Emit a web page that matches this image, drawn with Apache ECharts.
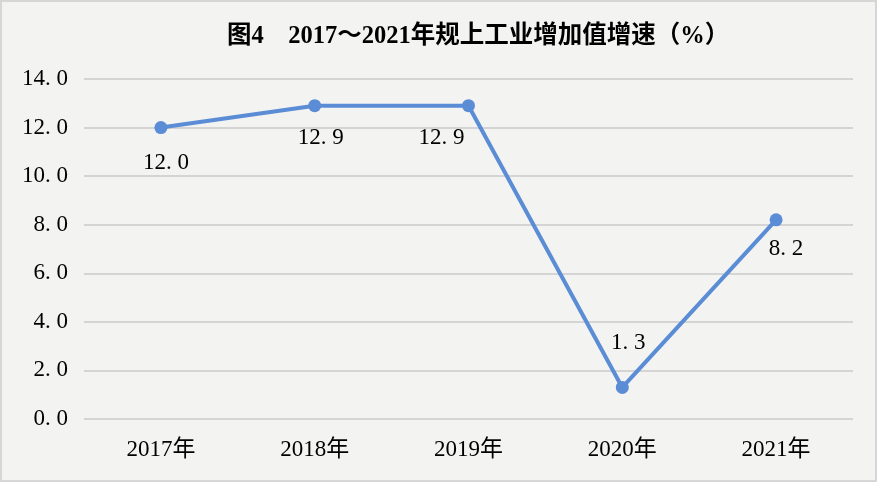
<!DOCTYPE html>
<html>
<head>
<meta charset="utf-8">
<script src="https://cdn.jsdelivr.net/npm/echarts@6/dist/echarts.min.js"></script>
<style>
  html, body { margin: 0; padding: 0; background: #ffffff; }
  #chart { width: 873px; height: 478px; border: 2px solid #d6d6d6; background: #f3f3f2; }
</style>
</head>
<body>
<div id="chart"></div>
<script>
const titleText = '图4\u30002017～2021年规上工业增加值增速（%）';
const categories = ['2017年', '2018年', '2019年', '2020年', '2021年'];
const growth = [12.0, 12.9, 12.9, 1.3, 8.2];
const yTicks = { min: 0, max: 14, interval: 2 };
const labelOffsets = [[5, 35], [6, 32], [-27, 32], [6, -44], [10, 29]];

const fmt = v => Number(v).toFixed(1).replace('.', '. ');
const serif = '"Liberation Serif", "Noto Sans CJK SC", serif';

const chart = echarts.init(document.getElementById('chart'));
chart.setOption({
  backgroundColor: 'transparent',
  animation: false,
  title: {
    text: titleText,
    left: 220,
    top: 17,
    textStyle: { fontFamily: serif, fontSize: 24.5, fontWeight: 'bold', color: '#000' }
  },
  grid: { left: 82, right: 22, top: 77, bottom: 61 },
  xAxis: {
    type: 'category',
    data: categories,
    boundaryGap: true,
    axisLine: { show: false },
    axisTick: { show: false },
    axisLabel: { margin: 19, fontFamily: serif, fontSize: 23, color: '#000' }
  },
  yAxis: {
    type: 'value',
    min: yTicks.min, max: yTicks.max, interval: yTicks.interval,
    axisLine: { show: false },
    axisTick: { show: false },
    splitLine: { lineStyle: { color: '#d4d4d4', width: 2 } },
    axisLabel: { margin: 16, fontFamily: serif, fontSize: 23, color: '#000', formatter: fmt }
  },
  series: [{
    type: 'line',
    data: growth.map((v, i) => ({
      value: v,
      label: { offset: labelOffsets[i] }
    })),
    symbol: 'circle',
    symbolSize: 13,
    lineStyle: { color: '#5a8dd6', width: 4 },
    itemStyle: { color: '#5a8dd6' },
    label: {
      show: true,
      position: 'inside',
      fontFamily: serif,
      fontSize: 23,
      color: '#000',
      formatter: p => fmt(p.value)
    }
  }]
});
</script>
</body>
</html>
